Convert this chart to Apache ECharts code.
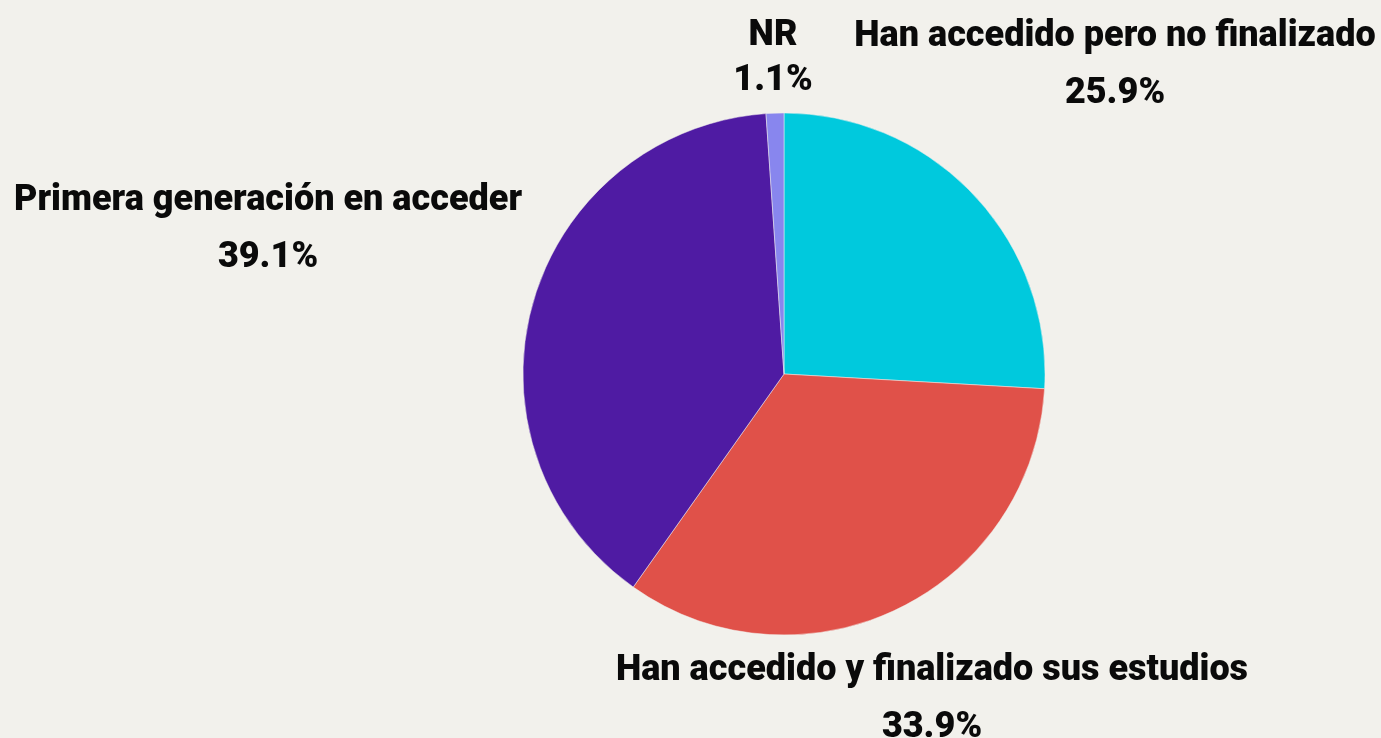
<!DOCTYPE html>
<html>
<head>
<meta charset="utf-8">
<script src="https://cdn.jsdelivr.net/npm/echarts@6/dist/echarts.min.js"></script>
<style>
  html, body { margin: 0; padding: 0; background: #F2F1EC; }
  #chart { width: 1381px; height: 738px; }
</style>
</head>
<body>
<div id="chart"></div>
<script>
const categories = ['Han accedido pero no finalizado', 'Han accedido y finalizado sus estudios', 'Primera generación en acceder', 'NR'];
const values = [25.9, 33.9, 39.1, 1.1];
const colors = ['#00C9DD', '#E05149', '#4F1BA3', '#8886EE'];

// where each label sits (centre of the text block)
const labelSpots = [[1115, 65], [932, 699], [268, 229], [773, 58]];

const chart = echarts.init(document.getElementById('chart'));

chart.setOption({
  backgroundColor: '#F2F1EC',
  animation: false,
  series: [{
    type: 'pie',
    center: [784, 374],
    radius: 261,
    startAngle: 90,
    clockwise: true,
    avoidLabelOverlap: false,
    itemStyle: { borderColor: '#F2F1EC', borderWidth: 0.5 },
    label: {
      show: true,
      position: 'outside',
      formatter: p => '{n|' + p.name + '}\n{v|' + p.value.toFixed(1) + '%}',
      rich: {
        n: { fontFamily: 'Roboto', fontWeight: 900, fontSize: 36, color: '#0a0a0a', lineHeight: 57, align: 'center' },
        v: { fontFamily: 'Roboto', fontWeight: 900, fontSize: 36, color: '#0a0a0a', lineHeight: 57, align: 'center' }
      }
    },
    labelLine: { show: false },
    labelLayout: function (params) {
      const s = labelSpots[params.dataIndex];
      return { x: s[0], y: s[1], align: 'center', verticalAlign: 'middle' };
    },
    data: categories.map((c, i) => ({
      name: c,
      value: values[i],
      itemStyle: { color: colors[i] },
      label: i === 3 ? { rich: { n: { lineHeight: 45 }, v: { lineHeight: 45 } } } : undefined
    }))
  }]
});
</script>
</body>
</html>
